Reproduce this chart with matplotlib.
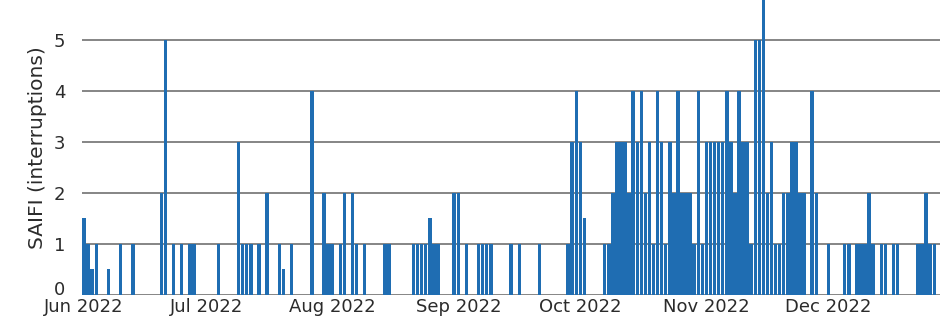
import matplotlib
matplotlib.use("Agg")
import matplotlib.pyplot as plt
import matplotlib.dates as mdates
import matplotlib.transforms as mtransforms
import pandas as pd

# Daily SAIFI contributions (interruptions per customer), June-December 2022
dates = [
    "2022-06-01", "2022-06-02", "2022-06-03", "2022-06-04", "2022-06-07",
    "2022-06-10", "2022-06-13", "2022-06-20", "2022-06-21", "2022-06-23",
    "2022-06-25", "2022-06-27", "2022-06-28",
    "2022-07-04", "2022-07-09", "2022-07-10", "2022-07-11", "2022-07-12",
    "2022-07-14", "2022-07-16", "2022-07-19", "2022-07-20", "2022-07-22",
    "2022-07-27", "2022-07-30", "2022-07-31",
    "2022-08-01", "2022-08-03", "2022-08-04", "2022-08-06", "2022-08-07",
    "2022-08-09", "2022-08-14", "2022-08-15", "2022-08-21", "2022-08-22",
    "2022-08-23", "2022-08-24", "2022-08-25", "2022-08-26", "2022-08-27",
    "2022-08-31",
    "2022-09-01", "2022-09-03", "2022-09-06", "2022-09-07", "2022-09-08",
    "2022-09-09", "2022-09-14", "2022-09-16", "2022-09-21", "2022-09-28",
    "2022-09-29", "2022-09-30",
    "2022-10-01", "2022-10-02", "2022-10-07", "2022-10-08", "2022-10-09",
    "2022-10-10", "2022-10-11", "2022-10-12", "2022-10-13", "2022-10-14",
    "2022-10-15", "2022-10-16", "2022-10-17", "2022-10-18", "2022-10-19",
    "2022-10-20", "2022-10-21", "2022-10-22", "2022-10-23", "2022-10-24",
    "2022-10-25", "2022-10-26", "2022-10-27", "2022-10-28", "2022-10-29",
    "2022-10-30", "2022-10-31",
    "2022-11-01", "2022-11-02", "2022-11-03", "2022-11-04", "2022-11-05",
    "2022-11-06", "2022-11-07", "2022-11-08", "2022-11-09", "2022-11-10",
    "2022-11-11", "2022-11-12", "2022-11-13", "2022-11-14", "2022-11-15",
    "2022-11-16", "2022-11-17", "2022-11-18", "2022-11-19", "2022-11-20",
    "2022-11-21", "2022-11-22", "2022-11-23", "2022-11-24", "2022-11-25",
    "2022-11-27", "2022-11-28",
    "2022-12-01", "2022-12-05", "2022-12-06", "2022-12-08", "2022-12-09",
    "2022-12-10", "2022-12-11", "2022-12-12", "2022-12-14", "2022-12-15",
    "2022-12-17", "2022-12-18", "2022-12-23", "2022-12-24", "2022-12-25",
    "2022-12-26", "2022-12-27",
]

saifi = [
    1.5, 1, 0.5, 1, 0.5,
    1, 1, 2, 5, 1,
    1, 1, 1,
    1, 3, 1, 1, 1,
    1, 2, 1, 0.5, 1,
    4, 2, 1,
    1, 1, 2, 2, 1,
    1, 1, 1, 1, 1,
    1, 1, 1.5, 1, 1,
    2,
    2, 1, 1, 1, 1,
    1, 1, 1, 1, 1,
    3, 4,
    3, 1.5, 1, 1, 2,
    3, 3, 3, 2, 4,
    3, 4, 2, 3, 1,
    4, 3, 1, 3, 2,
    4, 2, 2, 2, 1,
    4, 1,
    3, 3, 3, 3, 3,
    4, 3, 2, 4, 3,
    3, 1, 5, 5, 6,
    2, 3, 1, 1, 2,
    2, 3, 3, 2, 2,
    4, 2,
    1, 1, 1, 1, 1,
    1, 2, 1, 1, 1,
    1, 1, 1, 1, 2,
    1, 1,
]

x_start = "2022-06-01"
x_end = "2022-12-28"
y_ticks = [0, 1, 2, 3, 4, 5]

dt = pd.to_datetime(dates)
start = pd.Timestamp(x_start)
end = pd.Timestamp(x_end)

fig = plt.figure(figsize=(9.43, 3.25), dpi=100)
ax = fig.add_axes([82 / 943, 30 / 325, 858 / 943, 295 / 325])

ax.bar(dt, saifi, width=0.85, color="#1f6db2", linewidth=0, zorder=2)

ax.set_xlim(start - pd.Timedelta(hours=12), end + pd.Timedelta(hours=10))
ax.set_ylim(0, 5.78)
ax.set_yticks(y_ticks)

ax.xaxis.set_major_locator(mdates.MonthLocator())
ax.xaxis.set_major_formatter(mdates.DateFormatter("%b %Y"))

ax.grid(axis="y", color="#858585", linewidth=1.4, zorder=1)
ax.grid(axis="x", visible=False)
ax.set_axisbelow(True)
for s in ax.spines.values():
    s.set_visible(False)

ax.tick_params(axis="both", length=0, labelsize=13, colors="#2b2b2b")
ax.tick_params(axis="y", pad=12)
ax.tick_params(axis="x", pad=2)
ax.set_ylabel("SAIFI (interruptions)", fontsize=14.5, color="#2b2b2b", labelpad=5)

# lift the "0" label a little so it clears the first month label
zero_label = ax.yaxis.get_major_ticks()[0].label1
zero_label.set_verticalalignment("bottom")
zero_label.set_transform(zero_label.get_transform()
                         + mtransforms.ScaledTranslation(0, -3 / 72, fig.dpi_scale_trans))

fig.savefig("out.png", dpi=100, facecolor="white")
